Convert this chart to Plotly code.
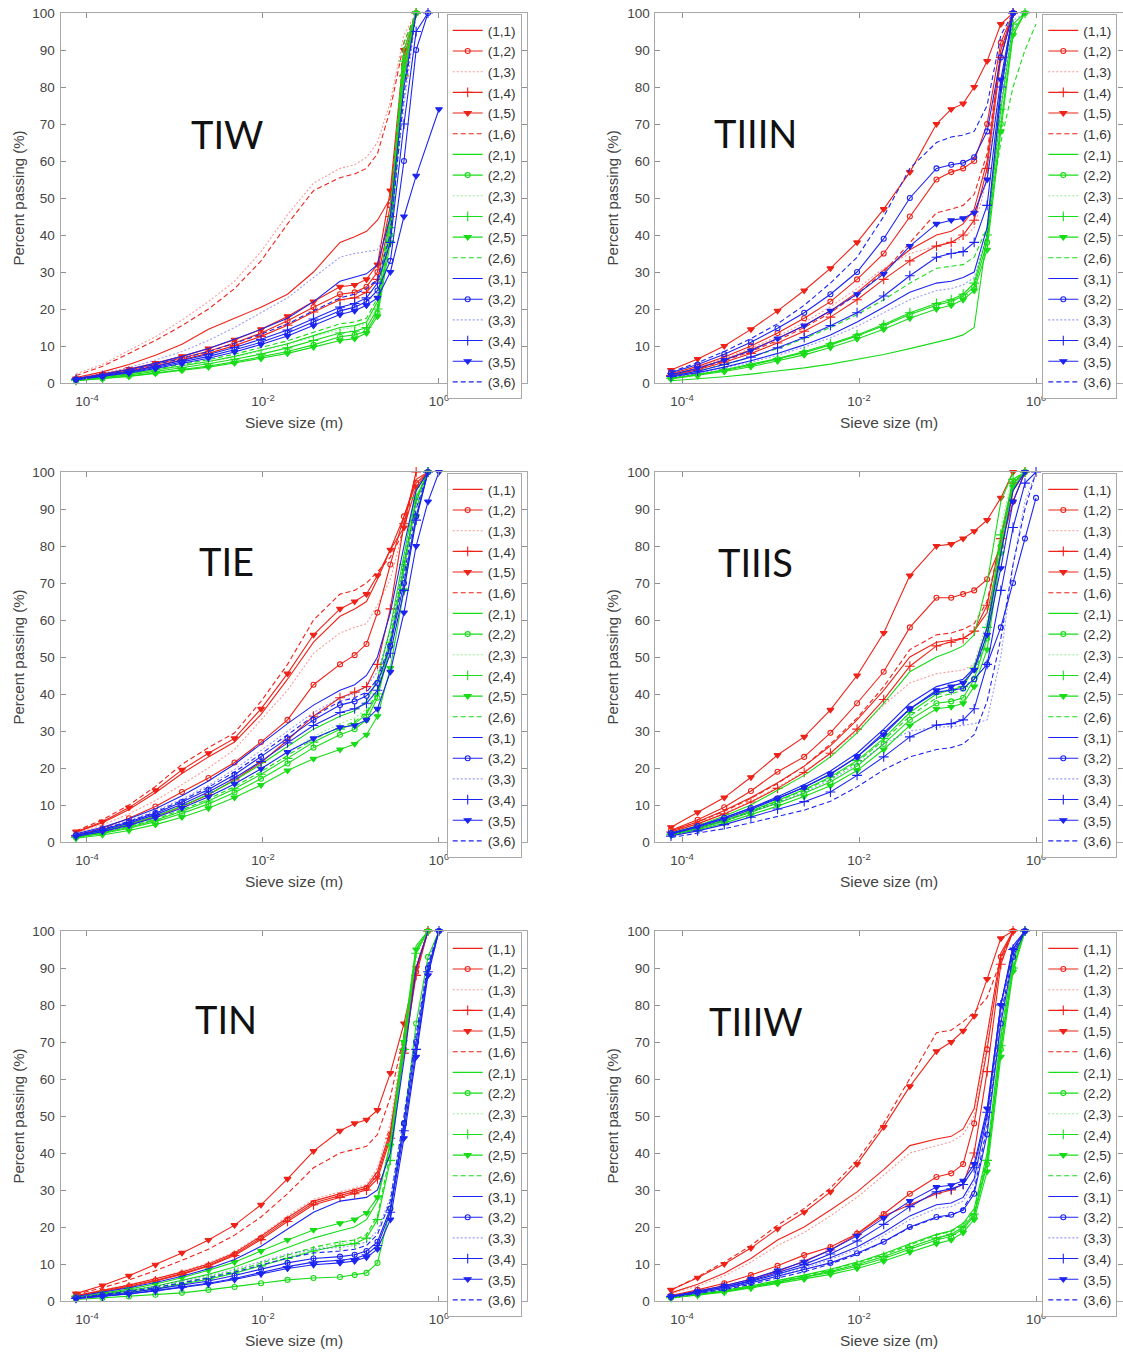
import math
import plotly.graph_objects as go

# ---------------- data ----------------
SIEVE_SIZE_M = [7.5e-5, 1.5e-4, 3e-4, 6e-4, 1.2e-3, 2.4e-3, 4.75e-3, 9.5e-3, 0.019,
                0.0375, 0.075, 0.11, 0.15, 0.2, 0.28, 0.4, 0.55, 0.75, 1.0]

SERIES_NAMES = ["(1,1)", "(1,2)", "(1,3)", "(1,4)", "(1,5)", "(1,6)",
                "(2,1)", "(2,2)", "(2,3)", "(2,4)", "(2,5)", "(2,6)",
                "(3,1)", "(3,2)", "(3,3)", "(3,4)", "(3,5)", "(3,6)"]

PANEL_TITLES = ["TIW", "TIIIN", "TIE", "TIIIS", "TIN", "TIIIW"]

X_TICK_VALUES = [1e-4, 1e-2, 1.0]
X_TICK_TEXT = ["10<sup>-4</sup>", "10<sup>-2</sup>", "10<sup>0</sup>"]
Y_TICK_VALUES = [0, 10, 20, 30, 40, 50, 60, 70, 80, 90, 100]
X_TITLE = "Sieve size (m)"
Y_TITLE = "Percent passing (%)"

# percent passing, one list per curve (curve ends where its list ends; None = no reading)
TIW_RED = [
    [1.5, 3, 5, 7.5, 10.5, 14.5, 17.5, 20.5, 24, 30, 38, 39.5, 41, 44, 50, 88, 100],
    [1.1, 2.2, 3.5, 5, 6.7, 8.6, 10.8, 13.5, 16.8, 20.5, 24, 24.5, 26, 30, 48, 86, 100],
    [2.5, 5, 8.8, 12.5, 17, 22, 27.5, 35.5, 45.5, 54, 58, 59, 61, 65, 76, 94, 100],
    [1, 2, 3.2, 4.6, 6.2, 8, 10.1, 12.6, 15.6, 19.2, 22.5, 23, 24.5, 28, 45, 83, 100],
    [1.2, 2.4, 3.8, 5.4, 7.2, 9.3, 11.7, 14.5, 18, 22, 26, 26.5, 28, 32, 52, 90, 100],
    [2, 4.5, 8, 11.5, 15.5, 20, 25.5, 33, 43, 52, 55.5, 56.5, 58, 62, 74, 92, 100],
]
TIW_GREEN = [
    [0.8, 1.6, 2.5, 3.5, 4.6, 5.8, 7.2, 8.8, 10.6, 12.8, 15, 15.5, 16.5, 22, 45, 90, 100],
    [0.6, 1.2, 1.9, 2.7, 3.6, 4.6, 5.7, 7, 8.5, 10.3, 12.5, 13, 14, 19, 40, 85, 100],
    [0.8, 1.5, 2.4, 3.4, 4.5, 5.7, 7, 8.6, 10.4, 12.5, 14.5, 15, 16, 21, 44, 88, 100],
    [0.7, 1.4, 2.2, 3.1, 4.1, 5.2, 6.4, 7.8, 9.5, 11.5, 13.5, 14, 15, 20, 42, 87, 100],
    [0.6, 1.1, 1.8, 2.6, 3.4, 4.3, 5.4, 6.6, 8, 9.7, 11.5, 12, 13.5, 18, 38, 83, 100],
    [0.9, 1.7, 2.7, 3.8, 5, 6.3, 7.8, 9.5, 11.4, 13.7, 16, 16.5, 17.5, 23, 47, 92, 100],
]
TIW_BLUE = [
    [1.2, 2.3, 3.7, 5.3, 7.2, 9.3, 11.8, 14.5, 17.5, 22, 27.5, 28.5, 29.5, 32, 45, 80, 100],
    [0.9, 1.8, 2.9, 4.2, 5.6, 7.2, 9, 11, 13.5, 16.5, 19.5, 20.5, 22, 25, 33, 60, 90, 100],
    [1.3, 2.6, 4.2, 6.2, 8.5, 11.5, 15, 19, 23, 28.5, 34, 35, 35.5, 36, 42, 75, 100],
    [1, 2, 3.1, 4.5, 6, 7.7, 9.6, 11.8, 14.3, 17.3, 20.5, 21.5, 23, 27, 38, 70, 95, 100],
    [0.9, 1.7, 2.7, 3.9, 5.2, 6.7, 8.4, 10.4, 12.7, 15.5, 18.5, 19.5, 21, 23, 30, 45, 56, None, 74],
    [1.1, 2.1, 3.4, 4.9, 6.6, 8.5, 10.7, 13.2, 16, 19.5, 23, 24, 25.5, 28, 40, 78, 100],
]

TIIIN_RED = [
    [2.2, 4, 6.3, 9, 12, 15.5, 19.5, 24.5, 30.5, 36, 40, 41, 43, 47, 60, 90, 100],
    [2.5, 4.5, 7, 10, 13.5, 17.5, 22, 28, 35, 45, 55, 57, 58, 60, 70, 92, 100],
    [2.3, 4.2, 6.6, 9.4, 12.6, 16.3, 20.6, 25.5, 31, 35, 37, 38, 39, 42, 55, 88, 100],
    [2, 3.6, 5.6, 8, 10.8, 14, 17.8, 22.5, 28, 33, 37, 38, 40, 44, 58, 88, 100],
    [3.5, 6.5, 10, 14.5, 19.5, 25, 31, 38, 47, 57, 70, 74, 75.5, 80, 87, 97, 100],
    [2, 3.8, 6, 8.5, 11.5, 15, 19, 24, 30, 38, 46, 47, 48, 51, 62, 90, 100],
]
TIIIN_GREEN = [
    [0.6, 1.1, 1.7, 2.4, 3.2, 4.1, 5.1, 6.3, 7.7, 9.3, 11, 12, 13, 15, 40, 80, 100],
    [1.2, 2.2, 3.4, 4.8, 6.4, 8.2, 10.3, 12.7, 15.5, 18.5, 21, 22, 23.5, 26, 38, 70, 95, 100],
    [1.3, 2.3, 3.5, 4.9, 6.5, 8.3, 10.4, 12.8, 15.6, 18.8, 21.5, 22.5, 24, 27, 39, 72, 96, 100],
    [1.3, 2.3, 3.6, 5, 6.6, 8.5, 10.6, 13, 15.8, 19, 21.5, 22.5, 24, 27, 40, 74, 97, 100],
    [1.1, 2, 3.1, 4.4, 5.9, 7.6, 9.6, 11.9, 14.5, 17.5, 20, 21, 22.5, 25, 36, 68, 94, 100],
    [1.8, 3.2, 5, 7, 9.3, 12, 15, 18.5, 22.5, 27, 31, 31.5, 32, 34, 42, 65, 80, 90, 97],
]
TIIIN_BLUE = [
    [1.6, 2.8, 4.3, 6, 8, 10.3, 13, 16.5, 20.5, 24.5, 27, 27.5, 28.5, 30, 42, 78, 100],
    [2.8, 5, 7.8, 11, 14.8, 19, 24, 30, 39, 50, 58, 59, 59.5, 61, 68, 88, 100],
    [1.5, 2.6, 4, 5.6, 7.5, 9.7, 12.2, 15.3, 19, 22.5, 25, 25.5, 26.5, 28.5, 40, 76, 98, 100],
    [1.8, 3.2, 5, 7, 9.5, 12.3, 15.5, 19, 23.5, 29, 34, 35, 35.5, 38, 48, 80, 100],
    [2.2, 4, 6.2, 8.8, 12, 15.5, 19.5, 24, 29.5, 37, 43, 44, 44.5, 46, 55, 82, 100],
    [3, 5.5, 8.5, 12, 16, 21, 27, 34, 45, 58, 65, 66.5, 67, 68, 75, 94, 100],
]

TIE_RED = [
    [2.6, 5.2, 8.8, 13.3, 18.5, 23, 27, 34.5, 44, 54, 61, 63, 65, 71, 79, 88, 98, 100],
    [1.8, 3.7, 6.4, 9.6, 13.5, 17.3, 21.5, 27, 33, 42.5, 48, 50.5, 53.5, 62, 75, 88, 97, 100],
    [2.4, 4.6, 7.6, 11.2, 15.5, 20, 25, 33, 41, 51, 56.5, 58, 59, 64, 71, 85, 100],
    [1.6, 2.9, 4.7, 6.9, 9.6, 12.8, 16.8, 21.5, 27.5, 34, 39, 40.5, 42, 48, 63, 86, 100],
    [2.8, 5.5, 9.3, 14, 19.5, 24, 28, 36, 45.5, 56, 63, 65, 67, 72, 79, 85, 96, 100],
    [3, 6, 10, 15, 21, 25.5, 29.5, 38, 48, 60, 67, 68, 70, 73, 77, 84, 100],
]
TIE_GREEN = [
    [1.6, 3, 4.8, 7, 9.7, 12.9, 16.6, 21, 25.8, 30.5, 34, 35.5, 38, 44, 58, 78, 95, 100],
    [1.2, 2.3, 3.7, 5.5, 7.7, 10.3, 13.4, 17.1, 21.2, 25.5, 29, 30.5, 33, 39, 53, 74, 92, 100],
    [1.5, 2.8, 4.5, 6.6, 9.2, 12.2, 15.7, 19.8, 24.3, 28.5, 32, 33.5, 36, 42, 56, 76, 94, 100],
    [1.3, 2.5, 4, 5.9, 8.3, 11.1, 14.4, 18.3, 22.6, 27, 30.5, 32, 34.5, 40, 54, 75, 93, 100],
    [1, 1.9, 3.1, 4.7, 6.7, 9.1, 12, 15.4, 19.3, 22.5, 25, 26.5, 29, 34, 47, 68, 88, 100],
    [1.4, 2.6, 4.2, 6.2, 8.7, 11.6, 15, 19, 23.4, 27.8, 31, 32.5, 35, 41, 55, 75, 93, 100],
]
TIE_BLUE = [
    [2.2, 4, 6.3, 9, 12.5, 16.5, 21, 26.5, 32, 37, 41, 42.5, 45, 50, 62, 80, 95, 100],
    [1.8, 3.4, 5.4, 7.8, 10.8, 14.2, 18.2, 23, 28, 33, 37, 38, 39.5, 43, 53, 70, 88, 100],
    [2, 3.7, 5.8, 8.4, 11.6, 15.3, 19.6, 24.7, 30, 35, 39, 40, 42, 46, 57, 75, 92, 100],
    [1.7, 3.2, 5.1, 7.4, 10.2, 13.5, 17.3, 21.8, 26.8, 31.5, 35, 36, 37.5, 41, 51, 68, 87, 100],
    [1.5, 2.8, 4.5, 6.6, 9.2, 12.2, 15.7, 19.8, 24.3, 28, 31, 31.5, 33, 36, 46, 62, 80, 92, 100],
    [1.9, 3.5, 5.6, 8.1, 11.2, 14.8, 18.9, 23.8, 29, 34, 38, 39, 40.5, 44, 54, 72, 90, 100],
]

TIIIS_RED = [
    [3, 5.5, 8.5, 12, 16, 20.5, 26, 33, 41, 50, 54, 54.5, 55, 57, 62, 78, 95, 100],
    [3.2, 6, 9.4, 13.8, 19, 23, 29.5, 37.5, 46, 58, 66, 66, 67, 68, 71, 80, 92, 100],
    [2.8, 5, 7.8, 11, 14.8, 19, 24, 30, 37, 43, 45.5, 46, 46.5, 48, 58, 80, 96, 100],
    [2.7, 4.9, 7.6, 10.8, 14.5, 18.8, 24, 30.5, 38.5, 47.5, 53, 54, 55, 57, 64, 82, 97, 100],
    [4, 8, 12, 17.5, 23.5, 28.4, 35.7, 45, 56.5, 72, 80, 80.5, 82, 84, 87, 93, 100],
    [3, 5.4, 8.3, 11.8, 15.8, 20.5, 26.5, 33.5, 42, 52, 56, 56.5, 57.5, 59, 65, 82, 97, 100],
]
TIIIS_GREEN = [
    [2.4, 4.4, 7, 10, 14, 18, 23, 29.5, 37.5, 46, 50, 51.5, 53, 56, 70, 92, 100],
    [2, 3.6, 5.6, 8, 10.5, 13.2, 16.2, 20.5, 26.5, 33, 37.5, 38, 39, 44, 55, 80, 97, 100],
    [2.2, 4, 6.2, 8.8, 11.7, 14.9, 18.5, 23, 29, 36, 41, 42, 43, 48, 60, 85, 100],
    [2.1, 3.8, 5.9, 8.4, 11.2, 14.2, 17.6, 22, 28, 35, 40, 41, 42, 47, 58, 83, 98, 100],
    [1.8, 3.3, 5.1, 7.3, 9.7, 12.3, 15.2, 19.3, 25, 31.5, 36, 36.5, 37.5, 42, 52, 78, 96, 100],
    [2, 3.7, 5.8, 8.2, 11, 14, 17.3, 21.6, 27.5, 34, 39, 40, 41, 45, 56, 82, 98, 100],
]
TIIIS_BLUE = [
    [2.3, 4.2, 6.5, 9.2, 12.2, 15.5, 19.2, 24, 30.5, 37.5, 42, 43, 44, 47, 58, 78, 95, 100],
    [2.4, 4.3, 6.6, 9.2, 11.8, 14.8, 18.3, 23, 29.5, 36, 40.5, 41, 41.5, 44, 48, 58, 70, 82, 93],
    [2, 3.6, 5.6, 8, 10.6, 13.5, 16.8, 21, 26.5, 30, 31, 31.2, 31.5, 32, 33, 50, 75, 92, 100],
    [1.6, 3, 4.7, 6.7, 8.9, 10.9, 13.5, 18, 23, 28.4, 31.6, 32, 33, 36, 48, 68, 85, 97, 100],
    [2.2, 4, 6.2, 8.8, 11.7, 14.8, 18.4, 23, 29, 36, 41, 42, 43, 46.5, 56, 74, 92, 100],
    [1.2, 2.3, 3.6, 5.2, 6.8, 8.6, 11, 14.9, 19.5, 23, 25, 25.5, 26.5, 29, 38, 55, 75, 90, 100],
]

TIN_RED = [
    [1.5, 2.8, 4.3, 6, 7.8, 10, 13, 17.5, 22.5, 27, 29, 30, 31, 35, 46, 70, 90, 100],
    [1.4, 2.6, 4, 5.6, 7.4, 9.6, 12.6, 17, 22, 26.5, 28.5, 29.5, 30.5, 34, 45, 68, 89, 100],
    [1.5, 2.9, 4.4, 6.1, 8, 10.3, 13.3, 17.8, 23, 27.5, 29.5, 30.5, 31.5, 36, 48, 72, 91, 100],
    [1.3, 2.5, 3.8, 5.4, 7.2, 9.4, 12.3, 16.6, 21.5, 26, 28, 29, 30, 33, 44, 67, 88, 100],
    [2, 4.2, 6.8, 9.8, 13, 16.5, 20.5, 26, 33, 40.5, 46, 48, 49, 51.6, 61.6, 75, 90, 100],
    [1.8, 3.6, 5.7, 8.2, 11, 14, 17.8, 22.7, 29, 36, 40, 41, 41.8, 45, 55, 72, 90, 100],
]
TIN_GREEN = [
    [0.9, 1.8, 2.8, 4, 5.5, 7.2, 9.2, 11.8, 14.5, 17, 19, 20, 22, 27, 43, 72, 96, 100],
    [0.4, 0.8, 1.2, 1.7, 2.2, 3, 3.8, 4.8, 5.7, 6.2, 6.5, 7, 7.6, 10.3, 25, 48, 75, 93, 100],
    [0.8, 1.5, 2.4, 3.4, 4.6, 6, 7.7, 9.7, 11.8, 14, 15.5, 16, 17.5, 22.5, 39, 69, 95, 100],
    [0.8, 1.5, 2.3, 3.3, 4.5, 5.9, 7.5, 9.5, 11.5, 13.5, 15, 15.5, 17, 22, 38, 68, 94, 100],
    [1, 2, 3.2, 4.6, 6.3, 8.3, 10.5, 13.5, 16.5, 19.2, 21, 22, 23.8, 28, 42, 70, 95, 100],
    [0.8, 1.6, 2.5, 3.6, 4.9, 6.4, 8.1, 10.2, 12.5, 14.5, 16, 16.5, 18, 23, 40, 70, 95, 100],
]
TIN_BLUE = [
    [1.2, 2.3, 3.6, 5, 6.7, 8.7, 11.2, 14.8, 19.5, 24, 27, 27.5, 28, 30, 40, 65, 90, 100],
    [0.8, 1.5, 2.3, 3.2, 4.2, 5.4, 6.9, 8.6, 10.3, 11.5, 12, 12.5, 13.5, 16, 25, 48, 70, 90, 100],
    [1, 1.9, 2.9, 4, 5.3, 6.8, 8.6, 10.7, 12.7, 14, 14.5, 15, 16, 19, 28, 50, 72, 92, 100],
    [0.7, 1.3, 2, 2.8, 3.7, 4.8, 6.1, 7.7, 9.3, 10.5, 11, 11.5, 12.5, 15, 24, 46, 68, 89, 100],
    [0.6, 1.2, 1.9, 2.7, 3.6, 4.6, 5.8, 7.3, 8.8, 9.8, 10.3, 10.8, 11.8, 14, 22, 44, 66, 88, 100],
    [0.9, 1.7, 2.6, 3.6, 4.8, 6.2, 7.8, 9.7, 11.6, 13, 13.5, 14, 15, 18, 27, 50, 72, 91, 100],
]

TIIIW_RED = [
    [2.2, 4.5, 7.5, 11.5, 16.5, 20, 24.6, 29.5, 35.5, 42, 43.8, 44.5, 46.5, 52, 72, 94, 100],
    [1.5, 3, 4.8, 7, 9.5, 12.4, 14.6, 18.2, 23.5, 29, 33.5, 34.5, 37, 48, 68, 93, 100],
    [2, 4, 6.8, 10.5, 15, 18.5, 23, 28, 34, 40, 42, 43, 45, 50, 70, 93, 100],
    [1.3, 2.6, 4.1, 5.9, 8, 10.8, 13.8, 18, 23, 26, 29, 30, 31.5, 40, 62, 91, 100],
    [3, 6.3, 10, 14.3, 19.5, 24, 29.5, 37, 47, 58, 67.5, 70, 73, 77, 87, 98, 100],
    [3, 6.5, 10.5, 15, 20.5, 25, 30.5, 38, 48, 60, 72.5, 73.2, 75.5, 78, 82, 92, 100],
]
TIIIW_GREEN = [
    [1, 1.9, 2.9, 4.1, 5.5, 7, 8.6, 10.5, 12.8, 15.5, 18, 19, 21, 25, 40, 72, 92, 100],
    [0.9, 1.7, 2.6, 3.7, 5, 6.3, 7.7, 9.4, 11.5, 14, 16.5, 17.5, 19.5, 23, 37, 68, 90, 100],
    [0.9, 1.8, 2.7, 3.9, 5.2, 6.6, 8.1, 9.9, 12.1, 14.7, 17.2, 18.2, 20, 24, 38, 70, 91, 100],
    [0.9, 1.7, 2.6, 3.8, 5.1, 6.5, 8, 9.8, 12, 14.5, 17, 18, 20, 23.5, 38, 69, 90, 100],
    [0.8, 1.6, 2.4, 3.5, 4.7, 5.9, 7.2, 8.8, 10.8, 13.2, 15.5, 16.5, 18.5, 22, 35, 66, 89, 100],
    [1, 1.8, 2.8, 4, 5.3, 6.8, 8.4, 10.3, 12.5, 15.2, 17.8, 18.8, 20.5, 24.5, 39, 71, 92, 100],
]
TIIIW_BLUE = [
    [1.2, 2.4, 3.7, 5.3, 7.2, 9.3, 11.7, 14.6, 18.5, 23, 26, 26.5, 28, 33, 50, 80, 96, 100],
    [1.1, 2.2, 3.4, 4.9, 6.7, 8.5, 10.3, 12.9, 16, 20, 22.7, 23.3, 24.5, 29, 45, 75, 93, 100],
    [1.2, 2.3, 3.6, 5.1, 6.9, 8.9, 11.2, 14, 17.7, 22, 25, 25.5, 27, 32, 48, 78, 95, 100],
    [1.2, 2.4, 3.8, 5.5, 7.6, 9.9, 12.7, 16.2, 20.7, 25.5, 29.5, 30.3, 31.5, 36, 51, 80, 95, 100],
    [1.3, 2.6, 4.1, 5.9, 8.2, 10.6, 13.8, 17.6, 22.4, 27, 30.8, 31.3, 32.5, 37, 52, 80, 95, 100],
    [1, 2, 3.1, 4.5, 6.1, 7.9, 10, 12.6, 16, 19.8, 22.5, 23, 25, 30, 47, 77, 94, 100],
]

PANEL_SERIES = [
    (TIW_RED, TIW_GREEN, TIW_BLUE),
    (TIIIN_RED, TIIIN_GREEN, TIIIN_BLUE),
    (TIE_RED, TIE_GREEN, TIE_BLUE),
    (TIIIS_RED, TIIIS_GREEN, TIIIS_BLUE),
    (TIN_RED, TIN_GREEN, TIN_BLUE),
    (TIIIW_RED, TIIIW_GREEN, TIIIW_BLUE),
]

# ---------------- styling ----------------
W, H = 1123, 1353
COLORS = [(238, 34, 24), (24, 220, 24), (28, 36, 240)]
STYLES = [
    dict(dash="solid", symbol=None, faint=False),
    dict(dash="solid", symbol="circle-open", faint=False),
    dict(dash="2px,2px", symbol=None, faint=True),
    dict(dash="solid", symbol="cross-thin-open", faint=False),
    dict(dash="solid", symbol="triangle-down", faint=False),
    dict(dash="5px,3px", symbol=None, faint=False),
]
MARKER_SIZE = {"circle-open": 5, "cross-thin-open": 7, "triangle-down": 6}

# pixel geometry of the panels
COL_X = [(60.5, 527.0, 88.0), (655.4, 1123.0, 88.5)]   # left, right, px per decade
ROW_Y = [(13, 383), (472, 842), (931, 1301)]            # top (100%), bottom (0%)
LEGEND_LEFT = [446.7, 1042.3]
TITLE_POS = [(227, 134), (755, 133), (226, 561), (755, 562), (226, 1019), (756, 1021)]

FONT = "Liberation Sans, Arial, Helvetica, sans-serif"

fig = go.Figure()
layout = dict(
    width=W, height=H,
    margin=dict(l=0, r=0, t=0, b=0, pad=0, autoexpand=False),
    paper_bgcolor="white", plot_bgcolor="white",
    font=dict(family=FONT, size=14, color="#333"),
    showlegend=True,
)
annotations = []

LOG_MIN = math.log10(5e-5)

for p, title in enumerate(PANEL_TITLES):
    row, col = divmod(p, 2)
    x0, x1, dec = COL_X[col]
    ytop, ybot = ROW_Y[row]
    suffix = "" if p == 0 else str(p + 1)
    xname, yname = "x" + suffix, "y" + suffix
    legname = "legend" + suffix

    for c, group in enumerate(PANEL_SERIES[p]):
        r, g, b = COLORS[c]
        for k, yvals in enumerate(group):
            st = STYLES[k]
            alpha = 0.45 if st["faint"] else 1.0
            color = f"rgba({r},{g},{b},{alpha})"
            xs = SIEVE_SIZE_M[:len(yvals)]
            tr = dict(
                x=xs, y=yvals, name=SERIES_NAMES[c * 6 + k],
                xaxis=xname, yaxis=yname, legend=legname,
                line=dict(color=color, width=1.1, dash=st["dash"]),
                cliponaxis=False, hoverinfo="skip", connectgaps=True,
            )
            if st["symbol"]:
                tr["mode"] = "lines+markers"
                tr["marker"] = dict(symbol=st["symbol"], size=MARKER_SIZE[st["symbol"]],
                                    color=color, line=dict(color=color, width=1.1))
            else:
                tr["mode"] = "lines"
            fig.add_trace(go.Scatter(**tr))

    xrange_hi = LOG_MIN + (x1 - x0) / dec
    axis_common = dict(
        showline=True, linecolor="#a8a8a8", linewidth=1,
        ticks="inside", ticklen=5, tickcolor="#909090", tickwidth=1,
        mirror="ticks", showgrid=False, zeroline=False, automargin=False,
        tickfont=dict(family=FONT, size=13.5, color="#444"),
    )
    layout["xaxis" + suffix] = dict(
        type="log", domain=[x0 / W, x1 / W], range=[LOG_MIN, xrange_hi],
        tickvals=X_TICK_VALUES, ticktext=X_TICK_TEXT, anchor=yname,
        ticklabelstandoff=6, **axis_common,
    )
    layout["yaxis" + suffix] = dict(
        domain=[1 - ybot / H, 1 - ytop / H], range=[0, 100],
        tickvals=Y_TICK_VALUES, anchor=xname, ticklabelstandoff=2, **axis_common,
    )
    layout[legname] = dict(
        x=LEGEND_LEFT[col] / W, y=1 - (ytop + 1) / H, xanchor="left", yanchor="top",
        bgcolor="white", bordercolor="#a8a8a8", borderwidth=1,
        font=dict(family=FONT, size=13.6, color="#333"),
        tracegroupgap=0, traceorder="normal", itemwidth=30,
    )

    tx, ty = TITLE_POS[p]
    annotations.append(dict(text=title, x=tx / W, y=1 - ty / H, xref="paper", yref="paper",
                            showarrow=False, xanchor="center", yanchor="middle",
                            font=dict(family="Lato, Open Sans, sans-serif", size=38, color="#111")))
    annotations.append(dict(text=X_TITLE, x=(x0 + x1) / 2 / W, y=1 - (ybot + 39) / H,
                            xref="paper", yref="paper", showarrow=False,
                            xanchor="center", yanchor="middle",
                            font=dict(family=FONT, size=15.5, color="#444")))
    annotations.append(dict(text=Y_TITLE, x=(x0 - 43) / W, y=1 - (ytop + ybot) / 2 / H,
                            xref="paper", yref="paper", showarrow=False, textangle=-90,
                            xanchor="center", yanchor="middle",
                            font=dict(family=FONT, size=15, color="#444")))

layout["annotations"] = annotations
fig.update_layout(**layout)
fig.write_html("out.html")
